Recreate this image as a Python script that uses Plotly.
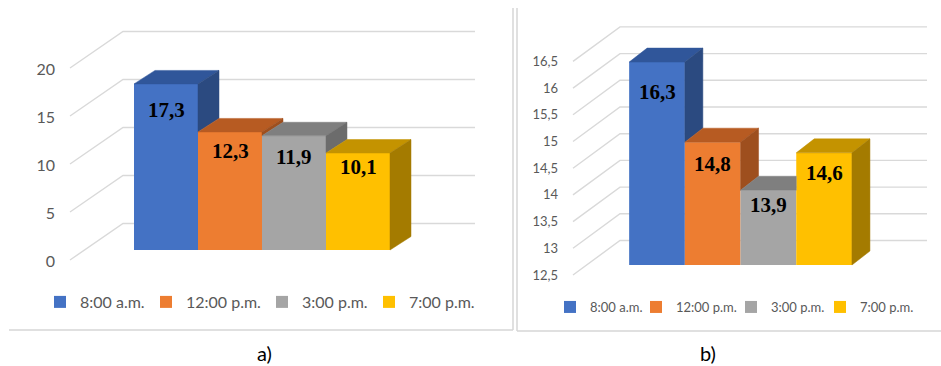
import plotly.graph_objects as go

# ---------------- data ----------------
categories = ["8:00 a.m.", "12:00 p.m.", "3:00 p.m.", "7:00 p.m."]
values_a = [17.3, 12.3, 11.9, 10.1]
values_b = [16.3, 14.8, 13.9, 14.6]
ticks_a = [0, 5, 10, 15, 20]
ticks_b = [12.5, 13, 13.5, 14, 14.5, 15, 15.5, 16, 16.5]
panel_labels = ["a)", "b)"]

# ---------------- style ----------------
FRONT = ["#4472C4", "#ED7D31", "#A5A5A5", "#FFC000"]
TOP = ["#30569A", "#B75B22", "#7F7F7F", "#C49300"]
SIDE = ["#2B4A80", "#9E4F1E", "#6C6C6C", "#A47B00"]
GRID = "#D9D9D9"
TXT = "#595959"
W, H = 941, 366

panels = [
    dict(values=values_a, ticks=ticks_a, label=panel_labels[0], xs="x", ys="y",
         xa="xaxis", ya="yaxis", legend="legend",
         x0px=166, xpx=64, y0px=250, ypx=9.6, floor=ticks_a[0],
         dom_x=(60, 500), dom_y=(15, 285), depth=(21, 13.5),
         front_x=70, front_drop=10, wall_x=123, wall_rise=26.5, wall_right=475,
         tick_size=16, tick_shift=11, legend_size=16, legend_x=40, legend_y=302,
         entry_w=[61, 71, 62, 75], label_drops=[26, 19, 21, 14], caption_x=255),
    dict(values=values_b, ticks=ticks_b, label=panel_labels[1], xs="x2", ys="y2",
         xa="xaxis2", ya="yaxis2", legend="legend2",
         x0px=657, xpx=55.7, y0px=265, ypx=53.4, floor=ticks_b[0],
         dom_x=(563, 935), dom_y=(15, 285), depth=(18, 14),
         front_x=573, front_drop=10, wall_x=620, wall_rise=24.5, wall_right=927,
         tick_size=13, tick_shift=10, legend_size=13, legend_x=550, legend_y=307,
         entry_w=[41, 50, 44, 62], label_drops=[30, 22, 15, 20], caption_x=718),
]


def fmt(v):
    return f"{v:.1f}".replace(".", ",")


fig = go.Figure()
shapes = []
annotations = []
layout = {}

for p in panels:
    xd = lambda px, p=p: (px - p["x0px"]) / p["xpx"]
    floor = p["floor"]
    ypx = p["ypx"]
    DX = p["depth"][0] / p["xpx"]
    DY = p["depth"][1] / ypx
    vals = p["values"]

    # back-wall gridlines and diagonal floor lines (behind everything)
    for t in p["ticks"]:
        fx, fy = xd(p["front_x"]), t - p["front_drop"] / ypx
        wx, wy = xd(p["wall_x"]), t + p["wall_rise"] / ypx
        rx = xd(p["wall_right"])
        shapes.append(dict(type="path", xref=p["xs"], yref=p["ys"], layer="below",
                           path=f"M {fx},{fy} L {wx},{wy} L {rx},{wy}",
                           line=dict(color=GRID, width=1.4)))

    # top and side faces of the 3-D bars
    for i, v in enumerate(vals):
        x0, x1 = i - 0.5, i + 0.5
        v_next = vals[i + 1] if i + 1 < len(vals) else floor
        if i + 1 < len(vals) and v_next > v:
            # overhang hidden behind the taller next bar
            xt = [x0, x1, x1, x0 + DX, x0]
        else:
            xt = [x0, x1, x1 + DX, x0 + DX, x0]
        yt = [v, v, v + DY, v + DY, v]
        fig.add_trace(go.Scatter(x=xt, y=yt, fill="toself", mode="lines",
                                 fillcolor=TOP[i], line=dict(color=TOP[i], width=0.5),
                                 xaxis=p["xs"], yaxis=p["ys"], showlegend=False,
                                 hoverinfo="skip"))
        if v_next < v:
            xs_ = [x1, x1, x1 + DX, x1 + DX, x1]
            ys_ = [v_next, v, v + DY, v_next + DY, v_next]
            fig.add_trace(go.Scatter(x=xs_, y=ys_, fill="toself", mode="lines",
                                     fillcolor=SIDE[i], line=dict(color=SIDE[i], width=0.5),
                                     xaxis=p["xs"], yaxis=p["ys"], showlegend=False,
                                     hoverinfo="skip"))

    # front faces (real bars)
    for i, (cat, v) in enumerate(zip(categories, vals)):
        fig.add_trace(go.Bar(x=[i], y=[v - floor], base=floor, width=1, name=cat,
                             marker=dict(color=FRONT[i], line=dict(width=0)),
                             xaxis=p["xs"], yaxis=p["ys"], legend=p["legend"],
                             legendwidth=p["entry_w"][i], hoverinfo="skip"))
        annotations.append(dict(x=i, y=v, xref=p["xs"], yref=p["ys"], text=fmt(v),
                                showarrow=False, yshift=-p["label_drops"][i],
                                font=dict(family="Liberation Serif", size=21,
                                          color="black", weight="bold")))

    dx0, dx1 = p["dom_x"]
    dy0, dy1 = p["dom_y"]
    layout[p["xa"]] = dict(domain=[dx0 / W, dx1 / W],
                           range=[xd(dx0), xd(dx1)], visible=False, fixedrange=True)
    layout[p["ya"]] = dict(domain=[1 - dy1 / H, 1 - dy0 / H],
                           range=[floor + (p["y0px"] - dy1) / ypx,
                                  floor + (p["y0px"] - dy0) / ypx],
                           tickvals=p["ticks"], showgrid=False, zeroline=False,
                           showline=False, ticks="", ticklabelshift=p["tick_shift"],
                           ticklabelstandoff=4, fixedrange=True,
                           tickfont=dict(family="Lato", size=p["tick_size"], color=TXT),
                           anchor=p["xs"])
    layout[p["legend"]] = dict(orientation="h", x=p["legend_x"] / W, xanchor="left",
                               y=1 - p["legend_y"] / H, yanchor="middle",
                               bgcolor="rgba(0,0,0,0)",
                               font=dict(family="Lato", size=p["legend_size"], color=TXT))
    annotations.append(dict(x=p["caption_x"] / W, y=1 - 353 / H, xref="paper", yref="paper",
                            text=p["label"], showarrow=False, yanchor="middle",
                            font=dict(family="Lato", size=20, color="black")))

layout["xaxis2"]["anchor"] = "y2"


def pline(x0, y0, x1, y1):
    return dict(type="line", xref="paper", yref="paper",
                x0=x0 / W, y0=1 - y0 / H, x1=x1 / W, y1=1 - y1 / H,
                line=dict(color="#D6D6D6", width=1.5))


# panel frames
shapes += [pline(9, 330, 513, 330), pline(513, 8, 513, 330),
           pline(517, 8, 517, 331), pline(517, 331, 941, 331)]

fig.update_layout(width=W, height=H,
                  margin=dict(l=0, r=0, t=0, b=0, autoexpand=False),
                  paper_bgcolor="white", plot_bgcolor="white",
                  barmode="overlay", separators=", ",
                  shapes=shapes, annotations=annotations, **layout)

fig.write_html("out.html")
